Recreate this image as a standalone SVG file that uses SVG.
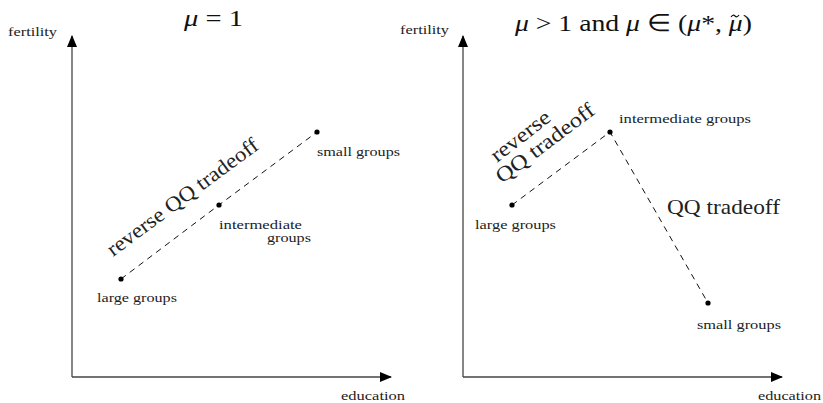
<svg xmlns="http://www.w3.org/2000/svg" width="823" height="403" viewBox="0 0 823 403">
<style>
text{font-family:'Liberation Serif','Times New Roman',serif}
.lbl{font-size:12.5px;fill:#222}
.big{font-size:21px;fill:#222}
.title{font-size:24px;fill:#111}
.axis{stroke:#444;stroke-width:1.3;fill:none}
.dash{stroke:#111;stroke-width:1;stroke-dasharray:6,5;fill:none}
.dot{fill:#000}
</style>
<defs>
<marker id="arr" viewBox="0 0 12 10" refX="11" refY="5" markerWidth="12" markerHeight="10" markerUnits="userSpaceOnUse" orient="auto">
<path d="M0,0 L12,5 L0,10 z" fill="#000"/>
</marker>
</defs>
<g id="connectors">
<path class="axis" d="M72,377 L72,36" marker-end="url(#arr)"/>
<path class="axis" d="M72,377 L391,377" marker-end="url(#arr)"/>
<path class="dash" d="M121,279 L219,205 L317,132"/>
<path class="axis" d="M463,377 L463,36" marker-end="url(#arr)"/>
<path class="axis" d="M463,377 L782,377" marker-end="url(#arr)"/>
<path class="dash" d="M512,205 L610,132 L708,303"/>
</g>
<g id="left-panel">
<text class="title" x="184" y="26" textLength="59" lengthAdjust="spacingAndGlyphs"><tspan font-style="italic">μ</tspan> = 1</text>
<text class="lbl" x="8" y="36" textLength="49" lengthAdjust="spacingAndGlyphs">fertility</text>
<text class="lbl" x="341" y="400" textLength="64" lengthAdjust="spacingAndGlyphs">education</text>
<text class="big" transform="translate(113,257) rotate(-36.5)" textLength="183" lengthAdjust="spacingAndGlyphs">reverse QQ tradeoff</text>
</g>
<g id="left-large">
<circle class="dot" cx="121" cy="279" r="2.6"/>
<text class="lbl" x="97" y="302" textLength="80" lengthAdjust="spacingAndGlyphs">large groups</text>
</g>
<g id="left-intermediate">
<circle class="dot" cx="219" cy="205" r="2.6"/>
<text class="lbl" x="219" y="229" textLength="83" lengthAdjust="spacingAndGlyphs">intermediate</text>
<text class="lbl" x="267" y="242" textLength="44" lengthAdjust="spacingAndGlyphs">groups</text>
</g>
<g id="left-small">
<circle class="dot" cx="317" cy="132" r="2.6"/>
<text class="lbl" x="317" y="156" textLength="83" lengthAdjust="spacingAndGlyphs">small groups</text>
</g>
<g id="right-panel">
<text class="title" x="515" y="31" textLength="237" lengthAdjust="spacingAndGlyphs"><tspan font-style="italic">μ</tspan> &gt; 1 and <tspan font-style="italic">μ</tspan> ∈ (<tspan font-style="italic">μ</tspan>*, <tspan font-style="italic">μ</tspan>)</text>
<path d="M731,17 q2,-3 4,-1 t4,-1" fill="none" stroke="#111" stroke-width="1.2"/>
<text class="lbl" x="400" y="34" textLength="49" lengthAdjust="spacingAndGlyphs">fertility</text>
<text class="lbl" x="758" y="400" textLength="63" lengthAdjust="spacingAndGlyphs">education</text>
<text class="big" transform="translate(497,163) rotate(-38)" textLength="70" lengthAdjust="spacingAndGlyphs">reverse</text>
<text class="big" transform="translate(502,184) rotate(-37)" textLength="118" lengthAdjust="spacingAndGlyphs">QQ tradeoff</text>
<text class="big" x="667" y="214" textLength="113" lengthAdjust="spacingAndGlyphs">QQ tradeoff</text>
</g>
<g id="right-large">
<circle class="dot" cx="512" cy="205" r="2.6"/>
<text class="lbl" x="475" y="229" textLength="81" lengthAdjust="spacingAndGlyphs">large groups</text>
</g>
<g id="right-intermediate">
<circle class="dot" cx="610" cy="132" r="2.6"/>
<text class="lbl" x="619" y="123" textLength="132" lengthAdjust="spacingAndGlyphs">intermediate groups</text>
</g>
<g id="right-small">
<circle class="dot" cx="708" cy="303" r="2.6"/>
<text class="lbl" x="697" y="329" textLength="84" lengthAdjust="spacingAndGlyphs">small groups</text>
</g>
</svg>
